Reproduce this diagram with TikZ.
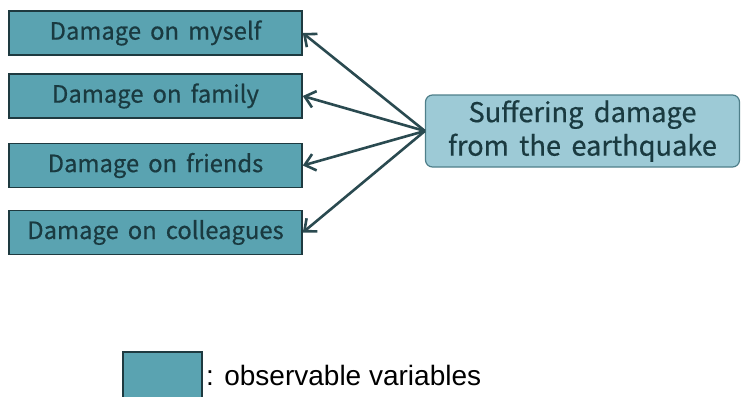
\documentclass[tikz,border=0pt]{standalone}
\usepackage{fontspec}
\setmainfont{Liberation Sans}
\newfontfamily\boxfont[WordSpace=1.7,FakeBold=0.5]{Noto Sans CJK JP}
\usetikzlibrary{calc,arrows.meta}

\definecolor{obsfill}{HTML}{5AA3B1}
\definecolor{obsline}{HTML}{1E3A40}
\definecolor{latfill}{HTML}{9DCAD6}
\definecolor{latline}{HTML}{4F7F8A}
\definecolor{txtdark}{HTML}{1A3A40}
\definecolor{arrline}{HTML}{2A4A50}

\tikzset{
	obsvar/.style={draw=obsline, line width=1.6pt, fill=obsfill, text=txtdark,
		minimum width=293pt, minimum height=44pt, inner sep=0pt,
		font=\boxfont\fontsize{23.8}{26}\selectfont},
	latvar/.style={draw=latline, line width=1.2pt, fill=latfill, text=txtdark,
		rounded corners=7pt, minimum width=314pt, minimum height=72pt,
		align=center, inner sep=0pt,
		font=\boxfont\fontsize{27.2}{33.5}\selectfont},
	loading/.style={draw=arrline, line width=2.6pt,
		-{Straight Barb[length=10pt,width=17pt,line width=2.6pt]}},
}

\begin{document}
\begin{tikzpicture}[x=1pt,y=-1pt]
	\useasboundingbox (0,0) rectangle (741,396);
	% observable variables
	\node[obsvar] (myself) at (155.5,33) {Damage on myself};
	\node[obsvar] (family) at (155.5,96) {Damage on family};
	\node[obsvar] (friends) at (155.5,165.5) {Damage on friends};
	\node[obsvar] (colleagues) at (155.5,232.5) {Damage on colleagues};
	% latent variable
	\node[latvar] (suffering) at (582.5,131) {Suffering damage\\from the earthquake};
	\draw[loading] (suffering.west) -- (myself.east);
	\draw[loading] (suffering.west) -- (family.east);
	\draw[loading] (suffering.west) -- (friends.east);
	\draw[loading] (suffering.west) -- (colleagues.east);
	% legend
	\path (123,352) coordinate (legtl);
	\path (202,402) coordinate (legbr);
	\draw[draw=obsline, line width=1.6pt, fill=obsfill] (legtl) rectangle (legbr);
	\node[anchor=base west, inner sep=0pt, font=\fontsize{28}{32}\selectfont]
		(legtext) at (206,385) {: observable variables};
\end{tikzpicture}
\end{document}
